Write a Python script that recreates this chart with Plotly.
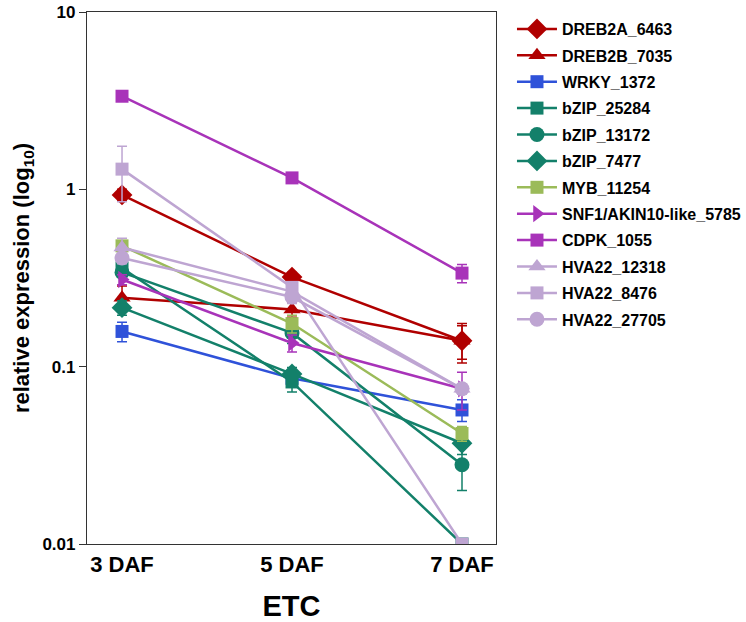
import plotly.graph_objects as go

days = ["3 DAF", "5 DAF", "7 DAF"]

names = ["DREB2A_6463", "DREB2B_7035", "WRKY_1372", "bZIP_25284", "bZIP_13172",
         "bZIP_7477", "MYB_11254", "SNF1/AKIN10-like_5785", "CDPK_1055",
         "HVA22_12318", "HVA22_8476", "HVA22_27705"]

dreb2a_6463 = [0.93, 0.32, 0.14]
dreb2b_7035 = [0.245, 0.21, 0.14]
wrky_1372 = [0.158, 0.086, 0.057]
bzip_25284 = [0.36, 0.082, 0.01]
bzip_13172 = [0.34, 0.155, 0.028]
bzip_7477 = [0.215, 0.091, 0.037]
myb_11254 = [0.48, 0.175, 0.042]
snf1_5785 = [0.31, 0.136, 0.075]
cdpk_1055 = [3.35, 1.16, 0.337]
hva22_12318 = [0.47, 0.265, 0.075]
hva22_8476 = [1.3, 0.28, 0.01]
hva22_27705 = [0.41, 0.247, 0.075]

err_dreb2a_6463 = [0.07, 0.02, 0.035]
err_dreb2b_7035 = [0.04, 0.02, 0.03]
err_wrky_1372 = [0.02, 0.008, 0.008]
err_bzip_25284 = [0.02, 0.01, 0.0]
err_bzip_13172 = [0.02, 0.02, 0.008]
err_bzip_7477 = [0.02, 0.008, 0.005]
err_myb_11254 = [0.03, 0.02, 0.004]
err_snf1_5785 = [0.02, 0.015, 0.018]
err_cdpk_1055 = [0.1, 0.05, 0.04]
err_hva22_12318 = [0.06, 0.03, 0.005]
err_hva22_8476 = [0.45, 0.02, 0.0]
err_hva22_27705 = [0.03, 0.02, 0.005]

values = [dreb2a_6463, dreb2b_7035, wrky_1372, bzip_25284, bzip_13172, bzip_7477,
          myb_11254, snf1_5785, cdpk_1055, hva22_12318, hva22_8476, hva22_27705]
errors = [err_dreb2a_6463, err_dreb2b_7035, err_wrky_1372, err_bzip_25284, err_bzip_13172,
          err_bzip_7477, err_myb_11254, err_snf1_5785, err_cdpk_1055, err_hva22_12318,
          err_hva22_8476, err_hva22_27705]

RED = "#B00000"
BLUE = "#2F52D9"
TEAL = "#13806A"
OLIVE = "#9BBB59"
PURPLE = "#A833B9"
LILAC = "#BEA5D2"
colors = [RED, RED, BLUE, TEAL, TEAL, TEAL, OLIVE, PURPLE, PURPLE, LILAC, LILAC, LILAC]
symbols = ["diamond", "triangle-up", "square", "square", "circle", "diamond", "square",
           "triangle-right", "square", "triangle-up", "square", "circle"]
sizes = [16, 15, 13, 13, 15, 16, 13, 15, 13, 15, 13, 15]

fig = go.Figure()
for n, v, e, c, s, sz in zip(names, values, errors, colors, symbols, sizes):
    fig.add_trace(go.Scatter(
        x=[0, 1, 2], y=v, name=n, mode="lines+markers", legendgroup=n,
        line=dict(color=c, width=2.5),
        marker=dict(color=c, symbol=s, size=sz, line=dict(width=0)),
        error_y=dict(type="data", array=e, visible=True, color=c, thickness=1.5, width=5),
    ))

fig.update_layout(
    width=746, height=622,
    margin=dict(l=87, r=250, t=12, b=78),
    paper_bgcolor="white", plot_bgcolor="white",
    font=dict(family="Liberation Sans, Arial, sans-serif", color="black"),
    showlegend=True,
    legend=dict(xref="container", yref="paper", x=0.6863, y=1.0,
                xanchor="left", yanchor="top", maxheight=600,
                font=dict(size=16, family="Liberation Sans, Arial, sans-serif", weight="bold"),
                tracegroupgap=2.6, itemwidth=40, bgcolor="rgba(0,0,0,0)"),
    xaxis=dict(
        range=[-0.206, 2.2], tickmode="array", tickvals=[0, 1, 2], ticktext=days,
        showline=True, linecolor="#333", linewidth=1.2, mirror=True,
        ticks="", showgrid=False, zeroline=False, automargin=False,
        tickfont=dict(size=22, weight="bold"),
        title=dict(text="ETC", font=dict(size=29, weight="bold"), standoff=24),
    ),
    yaxis=dict(
        type="log", range=[-2, 1], tickvals=[0.01, 0.1, 1, 10],
        ticktext=["0.01", "0.1", "1", "10"],
        showline=True, linecolor="#333", linewidth=1.2, mirror=True,
        ticks="outside", ticklen=7, tickcolor="#333",
        showgrid=False, zeroline=False, automargin=False, ticklabeloverflow="allow",
        tickfont=dict(size=17, weight="bold"),
        title=dict(text="relative expression (log<sub>10</sub>)",
                   font=dict(size=22, weight="bold"), standoff=6),
    ),
)

fig.write_html("out.html", config={"displayModeBar": False},
               post_script="document.body.style.margin='0';")
